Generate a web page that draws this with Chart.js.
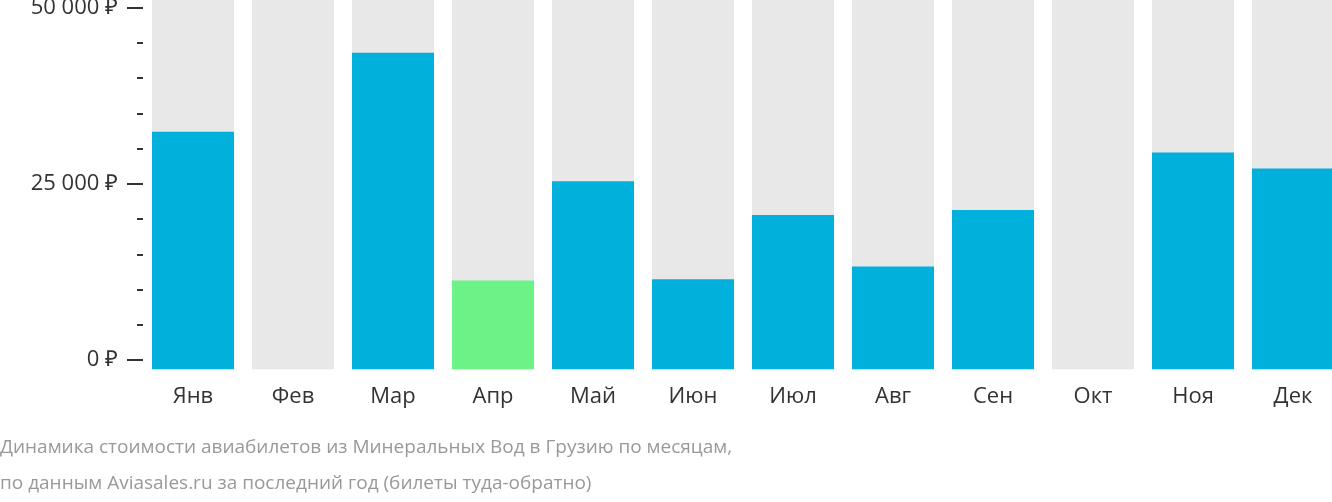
<!DOCTYPE html>
<html>
<head>
<meta charset="utf-8">
<script src="https://cdn.jsdelivr.net/npm/chart.js@4"></script>
<style>
  html, body { margin:0; padding:0; overflow:hidden; background:#fff; }
  #wrap { width:1343px; height:502px; }
</style>
</head>
<body>
<div id="wrap"><canvas id="c"></canvas></div>
<script>
/* ── Data ─────────────────────────────────────── */
const months  = ['Янв','Фев','Мар','Апр','Май','Июн','Июл','Авг','Сен','Окт','Ноя','Дек'];
const prices  = [33700, null, 44900, 12600, 26700, 12800, 21900, 14600, 22600, null, 30750, 28500];
const cheapest = 3; // Апр
const yMax    = 52400;
const yTicks  = [0, 25000, 50000];
const yMinor  = [5000,10000,15000,20000,30000,35000,40000,45000];

const fmt = v => v.toLocaleString('ru-RU').replace(/\s/g,' ') + ' ₽';

/* ── Y axis marks drawn on the scale's own pixels ── */
const axisMarks = {
  id: 'axisMarks',
  afterDraw(chart) {
    const ctx = chart.ctx, y = chart.scales.y, off = -9;
    ctx.save();
    ctx.strokeStyle = '#333'; ctx.lineWidth = 2;
    yMinor.forEach(v => {
      const p = Math.round(y.getPixelForValue(v)) + off;
      ctx.beginPath(); ctx.moveTo(137, p); ctx.lineTo(143, p); ctx.stroke();
    });
    ctx.font = '22px "Open Sans"'; ctx.fillStyle = '#333';
    ctx.textAlign = 'right'; ctx.textBaseline = 'middle';
    yTicks.forEach(v => {
      const p = Math.round(y.getPixelForValue(v)) + off;
      ctx.beginPath(); ctx.moveTo(127, p); ctx.lineTo(143, p); ctx.stroke();
      ctx.fillText(fmt(v), 118, p);
    });
    ctx.restore();
  }
};

new Chart(document.getElementById('c'), {
  type: 'bar',
  data: {
    labels: months,
    datasets: [
      {
        data: prices,
        backgroundColor: prices.map((_, i) => i === cheapest ? '#6cf386' : '#02b0dc'),
        categoryPercentage: 1, barPercentage: 0.82,
        order: 1
      },
      {
        data: months.map(() => yMax),
        backgroundColor: '#e8e8e8',
        categoryPercentage: 1, barPercentage: 0.82,
        order: 2
      }
    ]
  },
  options: {
    responsive: true,
    maintainAspectRatio: false,
    animation: false,
    layout: { padding: 0 },
    plugins: {
      legend: { display: false },
      tooltip: { enabled: false },
      title: {
        display: true, position: 'bottom',
        text: ['Динамика стоимости авиабилетов из Минеральных Вод в Грузию по месяцам,',
               'по данным Aviasales.ru за последний год (билеты туда-обратно)'],
        color: '#999', font: { family: 'Open Sans', size: 19, weight: 'normal', lineHeight: 1.9 },
        padding: { top: 14, bottom: 0 },
        align: 'start'
      }
    },
    scales: {
      x: {
        stacked: true,
        grid: { display: false }, border: { display: false },
        ticks: { color: '#333', font: { family: 'Open Sans', size: 22 }, padding: 6 }
      },
      y: {
        min: 0, max: yMax,
        grid: { display: false }, border: { display: false },
        ticks: { display: false },
        afterFit(s) { s.width = 143; }
      }
    }
  },
  plugins: [axisMarks]
});
</script>
</body>
</html>
